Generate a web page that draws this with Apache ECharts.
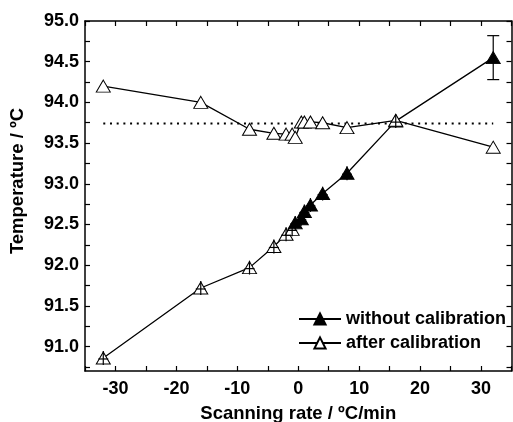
<!DOCTYPE html>
<html>
<head>
<meta charset="utf-8">
<script src="https://cdn.jsdelivr.net/npm/echarts@6/dist/echarts.min.js"></script>
<style>html,body{margin:0;padding:0;background:#fff}#c{width:513px;height:422px}</style>
</head>
<body>
<div id="c"></div>
<script>
var rates = [-32, -16, -8, -4, -2, -1, -0.5, 0.5, 1, 2, 4, 8, 16, 32];
var withoutCal = [90.86, 91.72, 91.97, 92.23, 92.38, 92.44, 92.52, 92.57, 92.66, 92.74, 92.88, 93.13, 93.77, 94.55];
var withoutErr = [0.085, 0.085, 0.085, 0.085, 0.085, 0.085, 0.085, 0.085, 0.085, 0.085, 0.085, 0.085, 0.085, 0.27];
var afterCal = [94.20, 94.00, 93.67, 93.62, 93.61, 93.61, 93.57, 93.76, 93.76, 93.76, 93.75, 93.69, 93.78, 93.45];
var refLineX = [-32, 32];
var refLineY = [93.74, 93.74];
var xTicks = [-35, -30, -25, -20, -15, -10, -5, 0, 5, 10, 15, 20, 25, 30, 35];
var xLabels = [-30, -20, -10, 0, 10, 20, 30];
var yTicks = [90.75, 91.0, 91.25, 91.5, 91.75, 92.0, 92.25, 92.5, 92.75, 93.0, 93.25, 93.5, 93.75, 94.0, 94.25, 94.5, 94.75, 95.0];
var yLabels = [91.0, 91.5, 92.0, 92.5, 93.0, 93.5, 94.0, 94.5, 95.0];

var FONT = 'Liberation Sans, Arial, sans-serif';
var chart = echarts.init(document.getElementById('c'));

var lowerData = rates.map(function (x, i) {
  var d = { value: [x, withoutCal[i]] };
  if (x <= -1) d.itemStyle = { color: '#fff', borderColor: '#000', borderWidth: 1 };
  return d;
});
var upperData = rates.map(function (x, i) { return [x, afterCal[i]]; });
var errData = rates.map(function (x, i) { return [x, withoutCal[i], withoutErr[i]]; });
var refData = refLineX.map(function (x, i) { return [x, refLineY[i]]; });

function axisCommon(show) {
  return {
    axisLine: { show: true, onZero: false, lineStyle: { color: '#000', width: 1.5 } },
    splitLine: { show: false },
    axisTick: { show: true, inside: true, length: 5, lineStyle: { color: '#000', width: 1.2 } },
    axisLabel: { show: show }
  };
}

var xa0 = Object.assign(axisCommon(true), {
  type: 'value', min: -35, max: 35, position: 'bottom',
  name: 'Scanning rate / \u00baC/min', nameLocation: 'middle', nameGap: 33,
  nameTextStyle: { fontFamily: FONT, fontWeight: 'bold', fontSize: 18.5, color: '#000' }
});
xa0.axisTick.customValues = xTicks;
xa0.axisLabel = { show: true, customValues: xLabels, margin: 9, fontFamily: FONT, fontWeight: 'bold', fontSize: 18, color: '#000' };
var xa1 = Object.assign(axisCommon(false), { type: 'value', min: -35, max: 35, position: 'top' });
xa1.axisTick.customValues = xTicks;

var ya0 = Object.assign(axisCommon(true), {
  type: 'value', min: 90.7, max: 95.0, position: 'left',
  name: 'Temperature / \u00baC', nameLocation: 'middle', nameGap: 58,
  nameTextStyle: { fontFamily: FONT, fontWeight: 'bold', fontSize: 18.5, color: '#000', padding: [0, 0, 0, 30] }
});
ya0.axisTick.customValues = yTicks;
ya0.axisLabel = { show: true, customValues: yLabels, margin: 6, fontFamily: FONT, fontWeight: 'bold', fontSize: 18, color: '#000',
  formatter: function (v) { return Number(v).toFixed(1); } };
var ya1 = Object.assign(axisCommon(false), { type: 'value', min: 90.7, max: 95.0, position: 'right' });
ya1.axisTick.customValues = yTicks;

chart.setOption({
  animation: false,
  backgroundColor: '#fff',
  grid: { left: 85, right: 1.5, top: 21, bottom: 51, containLabel: false, outerBoundsMode: 'none' },
  xAxis: [xa0, xa1],
  yAxis: [ya0, ya1],
  legend: {
    left: 298, top: 310, orient: 'vertical', padding: 0,
    itemWidth: 42, itemHeight: 14, itemGap: 6,
    textStyle: { fontFamily: FONT, fontWeight: 'bold', fontSize: 18, color: '#000', padding: [0, 0, 0, 0] },
    data: ['without calibration', 'after calibration']
  },
  series: [
    {
      name: 'reference', type: 'line', data: refData, symbol: 'none',
      lineStyle: { color: '#000', width: 2, type: [2, 4.7] }, z: 1, silent: true
    },
    {
      name: 'without calibration', type: 'line', data: lowerData,
      symbol: 'triangle', symbolSize: [14, 12],
      itemStyle: { color: '#000', borderColor: '#000', borderWidth: 1 },
      lineStyle: { color: '#000', width: 1.3 }, z: 2
    },
    {
      name: 'after calibration', type: 'line', data: upperData,
      symbol: 'triangle', symbolSize: [14, 12],
      itemStyle: { color: '#fff', borderColor: '#000', borderWidth: 1 },
      lineStyle: { color: '#000', width: 1.3 }, z: 3
    },
    {
      name: 'err', type: 'custom', data: errData, z: 4, silent: true,
      renderItem: function (params, api) {
        var x = api.value(0), y = api.value(1), e = api.value(2);
        var c = api.coord([x, y]);
        var top = api.coord([x, y + e]);
        var bot = api.coord([x, y - e]);
        var st = { stroke: '#000', lineWidth: 1.2 };
        var children = [{ type: 'line', shape: { x1: c[0], y1: top[1], x2: c[0], y2: bot[1] }, style: st }];
        if (e > 0.2) {
          children.push({ type: 'line', shape: { x1: c[0] - 6, y1: top[1], x2: c[0] + 6, y2: top[1] }, style: st });
          children.push({ type: 'line', shape: { x1: c[0] - 6, y1: bot[1], x2: c[0] + 6, y2: bot[1] }, style: st });
        } else {
          children.push({ type: 'line', shape: { x1: c[0] - 5, y1: c[1] + 1, x2: c[0] + 5, y2: c[1] + 1 }, style: st });
        }
        return { type: 'group', children: children };
      }
    }
  ]
});
</script>
</body>
</html>
